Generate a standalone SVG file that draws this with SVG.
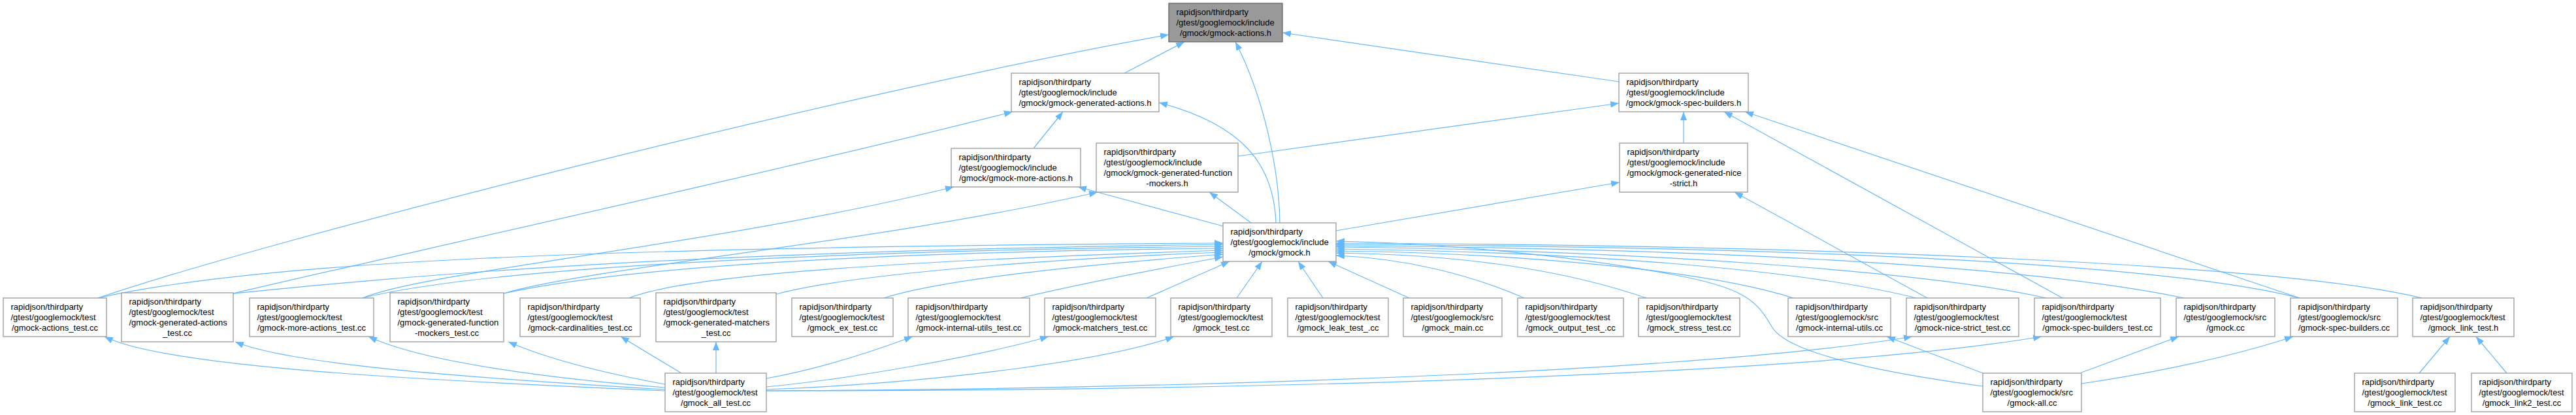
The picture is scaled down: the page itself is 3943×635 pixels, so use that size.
<svg xmlns="http://www.w3.org/2000/svg" width="3943" height="635" viewBox="0 0 3943 635">
<defs>
<marker id="ah" viewBox="0 0 13 10" refX="13" refY="5" markerWidth="13" markerHeight="10" markerUnits="userSpaceOnUse" orient="auto">
<path d="M0,0 L13,5 L0,10 z" fill="#63b8ff"/>
</marker>
</defs>
<style>
.node rect{fill:#ffffff;stroke:#999999;stroke-width:1.3}
.node.root rect{fill:#999999;stroke:#666666}
.node text{font-family:"Liberation Sans",Arial,Helvetica,sans-serif;font-size:13px;fill:#000000}
.node text.c{text-anchor:middle}
#edges path{fill:none;stroke:#63b8ff;stroke-width:1.2;marker-end:url(#ah)}
</style>
<rect x="0" y="0" width="3943" height="635" fill="#ffffff"/>
<g id="edges">
<path d="M150,456 C400,370 1300,140 1789,53"/>
<path d="M1721,112 L1813,64"/>
<path d="M1959,341 C1958,260 1935,150 1891,64"/>
<path d="M2478,125 L1963,50"/>
<path d="M357,449 C520,410 1200,260 1550,171"/>
<path d="M1582,227 L1627,171"/>
<path d="M1953,341 C1950,250 1900,190 1774,157"/>
<path d="M1895,239 L2478,158"/>
<path d="M2577,219 L2577,171"/>
<path d="M3157,456 L2639,171"/>
<path d="M3520,456 L2671,171"/>
<path d="M555,456 C650,415 1100,375 1460,286"/>
<path d="M1872,346 L1650,286"/>
<path d="M771,449 C900,410 1350,370 1680,294"/>
<path d="M1915,341 L1851,294"/>
<path d="M2045,353 L2479,279"/>
<path d="M2950,456 L2655,294"/>
<path d="M150,456 C400,400 900,378 1872,372"/>
<path d="M357,449 C600,425 1000,385 1872,374"/>
<path d="M555,456 C700,420 1100,386 1872,377"/>
<path d="M771,449 C950,410 1300,386 1872,380"/>
<path d="M963,456 C1050,420 1400,398 1872,383"/>
<path d="M1188,450 C1300,420 1600,396 1872,386"/>
<path d="M1353,456 C1450,425 1700,402 1872,389"/>
<path d="M1562,456 C1650,435 1780,410 1872,393"/>
<path d="M1755,456 L1882,400"/>
<path d="M1893,456 L1932,400"/>
<path d="M2025,456 L1987,400"/>
<path d="M2157,456 L2033,400"/>
<path d="M2333,456 C2250,420 2150,395 2045,391"/>
<path d="M2520,456 C2400,415 2250,390 2045,387"/>
<path d="M2745,456 C2600,410 2300,387 2045,384"/>
<path d="M2933,456 C2750,410 2400,385 2045,381"/>
<path d="M3132,456 C2950,415 2500,383 2045,378"/>
<path d="M3343,456 C3100,405 2600,380 2045,376"/>
<path d="M3520,456 C3300,400 2700,377 2045,374"/>
<path d="M3707,456 C3500,405 2800,375 2045,372"/>
<path d="M3035,591 C2880,570 2735,540 2712,500 S2670,440 2560,420 C2400,390 2200,372 2045,369"/>
<path d="M1018,598 C600,580 250,560 160,515"/>
<path d="M1018,596 C750,580 450,560 360,523"/>
<path d="M1018,593 C850,580 650,555 564,515"/>
<path d="M1018,588 C920,570 840,550 778,523"/>
<path d="M1043,571 L950,515"/>
<path d="M1096,571 L1096,523"/>
<path d="M1173,579 C1250,565 1330,540 1397,515"/>
<path d="M1173,592 C1300,580 1500,545 1605,515"/>
<path d="M1173,596 C1450,585 1700,550 1797,515"/>
<path d="M1173,598 C1800,595 2600,570 2927,515"/>
<path d="M1173,598 C2000,598 2800,570 3125,515"/>
<path d="M3035,571 L2888,515"/>
<path d="M3186,570 L3335,515"/>
<path d="M3186,587 C3300,570 3420,545 3510,515"/>
<path d="M3703,571 L3750,515"/>
<path d="M3837,571 L3790,515"/>
</g>
<g id="n_gmock_actions_h" class="node root"><rect x="1789" y="5" width="174" height="59"/><text x="1800.5" y="23">rapidjson/thirdparty</text><text x="1800.5" y="39">/gtest/googlemock/include</text><text class="c" x="1876" y="55">/gmock/gmock-actions.h</text></g>
<g id="n_gen_actions_h" class="node"><rect x="1548" y="112" width="226" height="59"/><text x="1559.5" y="130">rapidjson/thirdparty</text><text x="1559.5" y="146">/gtest/googlemock/include</text><text class="c" x="1661" y="162">/gmock/gmock-generated-actions.h</text></g>
<g id="n_spec_builders_h" class="node"><rect x="2478" y="112" width="198" height="59"/><text x="2489.5" y="130">rapidjson/thirdparty</text><text x="2489.5" y="146">/gtest/googlemock/include</text><text class="c" x="2577" y="162">/gmock/gmock-spec-builders.h</text></g>
<g id="n_more_actions_h" class="node"><rect x="1456" y="227" width="198" height="59"/><text x="1467.5" y="245">rapidjson/thirdparty</text><text x="1467.5" y="261">/gtest/googlemock/include</text><text class="c" x="1555" y="277">/gmock/gmock-more-actions.h</text></g>
<g id="n_gen_func_mockers_h" class="node"><rect x="1678" y="219" width="217" height="75"/><text x="1689.5" y="237">rapidjson/thirdparty</text><text x="1689.5" y="253">/gtest/googlemock/include</text><text x="1689.5" y="269">/gmock/gmock-generated-function</text><text class="c" x="1786.5" y="285">-mockers.h</text></g>
<g id="n_nice_strict_h" class="node"><rect x="2479" y="219" width="196" height="75"/><text x="2490.5" y="237">rapidjson/thirdparty</text><text x="2490.5" y="253">/gtest/googlemock/include</text><text x="2490.5" y="269">/gmock/gmock-generated-nice</text><text class="c" x="2577" y="285">-strict.h</text></g>
<g id="n_gmock_h" class="node"><rect x="1872" y="341" width="173" height="59"/><text x="1883.5" y="359">rapidjson/thirdparty</text><text x="1883.5" y="375">/gtest/googlemock/include</text><text class="c" x="1958.5" y="391">/gmock/gmock.h</text></g>
<g id="n_actions_test" class="node"><rect x="5" y="456" width="158" height="59"/><text x="16.5" y="474">rapidjson/thirdparty</text><text x="16.5" y="490">/gtest/googlemock/test</text><text class="c" x="84" y="506">/gmock-actions_test.cc</text></g>
<g id="n_gen_actions_test" class="node"><rect x="186" y="448" width="171" height="75"/><text x="197.5" y="466">rapidjson/thirdparty</text><text x="197.5" y="482">/gtest/googlemock/test</text><text x="197.5" y="498">/gmock-generated-actions</text><text class="c" x="271.5" y="514">_test.cc</text></g>
<g id="n_more_actions_test" class="node"><rect x="382" y="456" width="190" height="59"/><text x="393.5" y="474">rapidjson/thirdparty</text><text x="393.5" y="490">/gtest/googlemock/test</text><text class="c" x="477" y="506">/gmock-more-actions_test.cc</text></g>
<g id="n_gen_func_mockers_test" class="node"><rect x="597" y="448" width="174" height="75"/><text x="608.5" y="466">rapidjson/thirdparty</text><text x="608.5" y="482">/gtest/googlemock/test</text><text x="608.5" y="498">/gmock-generated-function</text><text class="c" x="684" y="514">-mockers_test.cc</text></g>
<g id="n_cardinalities_test" class="node"><rect x="796" y="456" width="184" height="59"/><text x="807.5" y="474">rapidjson/thirdparty</text><text x="807.5" y="490">/gtest/googlemock/test</text><text class="c" x="888" y="506">/gmock-cardinalities_test.cc</text></g>
<g id="n_gen_matchers_test" class="node"><rect x="1004" y="448" width="184" height="75"/><text x="1015.5" y="466">rapidjson/thirdparty</text><text x="1015.5" y="482">/gtest/googlemock/test</text><text x="1015.5" y="498">/gmock-generated-matchers</text><text class="c" x="1096" y="514">_test.cc</text></g>
<g id="n_ex_test" class="node"><rect x="1212" y="456" width="155" height="59"/><text x="1223.5" y="474">rapidjson/thirdparty</text><text x="1223.5" y="490">/gtest/googlemock/test</text><text class="c" x="1289.5" y="506">/gmock_ex_test.cc</text></g>
<g id="n_internal_utils_test" class="node"><rect x="1390" y="456" width="186" height="59"/><text x="1401.5" y="474">rapidjson/thirdparty</text><text x="1401.5" y="490">/gtest/googlemock/test</text><text class="c" x="1483" y="506">/gmock-internal-utils_test.cc</text></g>
<g id="n_matchers_test" class="node"><rect x="1599" y="456" width="170" height="59"/><text x="1610.5" y="474">rapidjson/thirdparty</text><text x="1610.5" y="490">/gtest/googlemock/test</text><text class="c" x="1684" y="506">/gmock-matchers_test.cc</text></g>
<g id="n_gmock_test" class="node"><rect x="1792" y="456" width="155" height="59"/><text x="1803.5" y="474">rapidjson/thirdparty</text><text x="1803.5" y="490">/gtest/googlemock/test</text><text class="c" x="1869.5" y="506">/gmock_test.cc</text></g>
<g id="n_leak_test" class="node"><rect x="1971" y="456" width="154" height="59"/><text x="1982.5" y="474">rapidjson/thirdparty</text><text x="1982.5" y="490">/gtest/googlemock/test</text><text class="c" x="2048" y="506">/gmock_leak_test_.cc</text></g>
<g id="n_gmock_main" class="node"><rect x="2148" y="456" width="151" height="59"/><text x="2159.5" y="474">rapidjson/thirdparty</text><text x="2159.5" y="490">/gtest/googlemock/src</text><text class="c" x="2223.5" y="506">/gmock_main.cc</text></g>
<g id="n_output_test" class="node"><rect x="2323" y="456" width="162" height="59"/><text x="2334.5" y="474">rapidjson/thirdparty</text><text x="2334.5" y="490">/gtest/googlemock/test</text><text class="c" x="2404" y="506">/gmock_output_test_.cc</text></g>
<g id="n_stress_test" class="node"><rect x="2508" y="456" width="155" height="59"/><text x="2519.5" y="474">rapidjson/thirdparty</text><text x="2519.5" y="490">/gtest/googlemock/test</text><text class="c" x="2585.5" y="506">/gmock_stress_test.cc</text></g>
<g id="n_internal_utils_cc" class="node"><rect x="2737" y="456" width="157" height="59"/><text x="2748.5" y="474">rapidjson/thirdparty</text><text x="2748.5" y="490">/gtest/googlemock/src</text><text class="c" x="2815.5" y="506">/gmock-internal-utils.cc</text></g>
<g id="n_nice_strict_test" class="node"><rect x="2918" y="456" width="172" height="59"/><text x="2929.5" y="474">rapidjson/thirdparty</text><text x="2929.5" y="490">/gtest/googlemock/test</text><text class="c" x="3004" y="506">/gmock-nice-strict_test.cc</text></g>
<g id="n_spec_builders_test" class="node"><rect x="3114" y="456" width="193" height="59"/><text x="3125.5" y="474">rapidjson/thirdparty</text><text x="3125.5" y="490">/gtest/googlemock/test</text><text class="c" x="3210.5" y="506">/gmock-spec-builders_test.cc</text></g>
<g id="n_gmock_cc" class="node"><rect x="3331" y="456" width="151" height="59"/><text x="3342.5" y="474">rapidjson/thirdparty</text><text x="3342.5" y="490">/gtest/googlemock/src</text><text class="c" x="3406.5" y="506">/gmock.cc</text></g>
<g id="n_spec_builders_cc" class="node"><rect x="3506" y="456" width="164" height="59"/><text x="3517.5" y="474">rapidjson/thirdparty</text><text x="3517.5" y="490">/gtest/googlemock/src</text><text class="c" x="3588" y="506">/gmock-spec-builders.cc</text></g>
<g id="n_link_test_h" class="node"><rect x="3693" y="456" width="155" height="59"/><text x="3704.5" y="474">rapidjson/thirdparty</text><text x="3704.5" y="490">/gtest/googlemock/test</text><text class="c" x="3770.5" y="506">/gmock_link_test.h</text></g>
<g id="n_all_test" class="node"><rect x="1018" y="571" width="155" height="59"/><text x="1029.5" y="589">rapidjson/thirdparty</text><text x="1029.5" y="605">/gtest/googlemock/test</text><text class="c" x="1095.5" y="621">/gmock_all_test.cc</text></g>
<g id="n_gmock_all_cc" class="node"><rect x="3035" y="571" width="151" height="59"/><text x="3046.5" y="589">rapidjson/thirdparty</text><text x="3046.5" y="605">/gtest/googlemock/src</text><text class="c" x="3110.5" y="621">/gmock-all.cc</text></g>
<g id="n_link_test_cc" class="node"><rect x="3604" y="571" width="154" height="59"/><text x="3615.5" y="589">rapidjson/thirdparty</text><text x="3615.5" y="605">/gtest/googlemock/test</text><text class="c" x="3681" y="621">/gmock_link_test.cc</text></g>
<g id="n_link2_test_cc" class="node"><rect x="3783" y="571" width="154" height="59"/><text x="3794.5" y="589">rapidjson/thirdparty</text><text x="3794.5" y="605">/gtest/googlemock/test</text><text class="c" x="3860" y="621">/gmock_link2_test.cc</text></g>
</svg>
